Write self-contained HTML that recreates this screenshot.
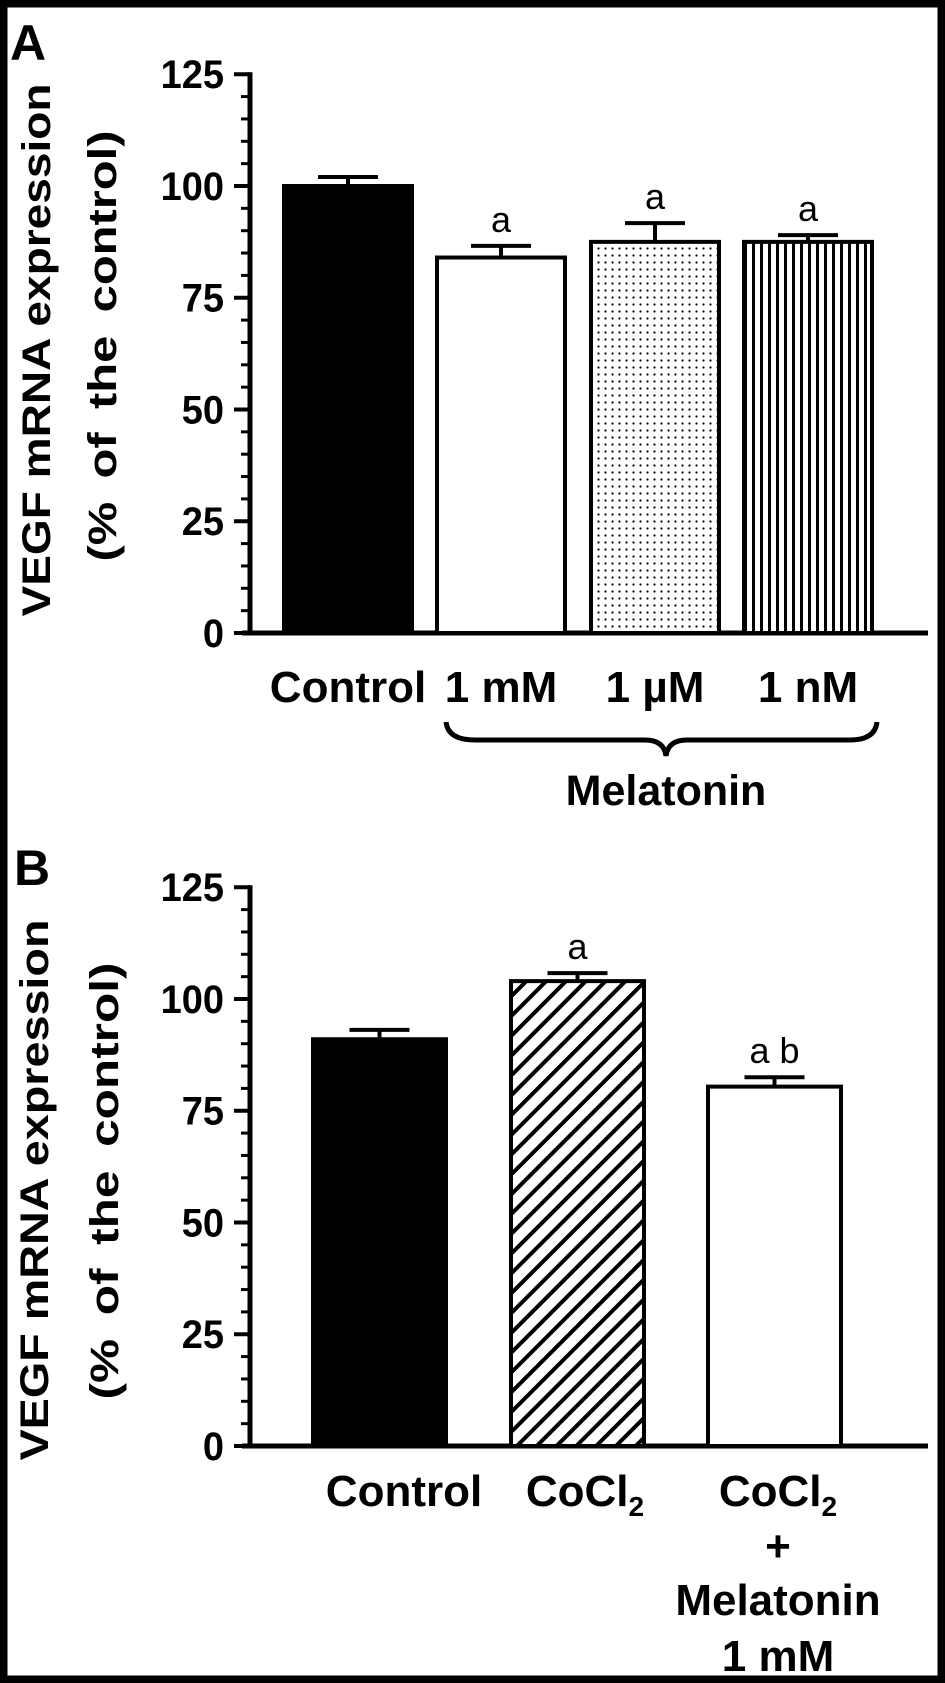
<!DOCTYPE html>
<html><head><meta charset="utf-8"><style>
html,body{margin:0;padding:0;background:#fff}
svg{display:block}
text{font-family:"Liberation Sans",Arial,sans-serif}
</style></head><body>
<svg id="chart" width="945" height="1683" viewBox="0 0 945 1683" xmlns="http://www.w3.org/2000/svg">
<defs>
<pattern id="dots" width="7" height="7" patternUnits="userSpaceOnUse"><rect width="7" height="7" fill="#fff"/><circle cx="3.5" cy="3.5" r="1.1" fill="#000"/></pattern>
<pattern id="vstripes" width="8" height="8" patternUnits="userSpaceOnUse"><rect width="8" height="8" fill="#fff"/><rect x="0" y="0" width="3" height="8" fill="#000"/></pattern>
<pattern id="hatch" width="14" height="14" patternUnits="userSpaceOnUse" patternTransform="rotate(45)"><rect width="14" height="14" fill="#fff"/><rect x="0" y="0" width="4" height="14" fill="#000"/></pattern>
</defs>
<rect x="3.5" y="3.5" width="938" height="1676" fill="#fff" stroke="#000" stroke-width="8"/>
<g id="panelA"></g>
<g id="panelB"></g>
</svg>
<script>
const ticksY = [0, 25, 50, 75, 100, 125];
const catsA = ["Control", "1 mM", "1 \u00b5M", "1 nM"];
const valsA = [100, 84, 87.5, 87.5];
const errsA = [2, 2.6, 4.2, 1.5];
const sigA = ["", "a", "a", "a"];
const catsB = ["Control", "CoCl2", "CoCl2 + Melatonin 1 mM"];
const valsB = [91, 104, 80.4];
const errsB = [2.1, 1.8, 2.1];
const sigB = ["", "a", "a b"];

const NS = "http://www.w3.org/2000/svg";
function mk(parent, tag, attrs, txt) {
  const e = document.createElementNS(NS, tag);
  for (const k in attrs) e.setAttribute(k, attrs[k]);
  if (txt !== undefined) e.textContent = txt;
  parent.appendChild(e);
  return e;
}

function drawPanel(g, cfg) {
  const y = v => cfg.y0 - v * cfg.pxPerUnit;
  const ax = mk(g, "line", {x1: cfg.axX, y1: y(125) - 2, x2: cfg.axX, y2: y(0) + 2, stroke: "#000", "stroke-width": 5});
  
  
  for (let v = 0; v <= 125; v += 5) {
    const major = v % 25 === 0;
    const t = mk(g, "line", {x1: cfg.axX - (major ? 16 : 9), y1: y(v), x2: cfg.axX, y2: y(v), stroke: "#000", "stroke-width": major ? 4 : 3});
    
    
  }
  ticksY.forEach(v => {
    const t = mk(g, "text", {x: cfg.axX - 26, y: y(v) + 14, "text-anchor": "end", "font-size": 40, "font-weight": "bold", transform: `translate(${cfg.axX-26},0) scale(0.95,1) translate(${-(cfg.axX-26)},0)`}, String(v));
    
    
  });
  const xa = mk(g, "line", {x1: cfg.axX - 8, y1: y(0), x2: 928, y2: y(0), stroke: "#000", "stroke-width": 5});
  
  
  cfg.vals.forEach((v, i) => {
    const x0 = cfg.barX[i], w = cfg.barW;
    const cx = x0 + w / 2;
    const eb = mk(g, "line", {x1: cx, y1: y(v), x2: cx, y2: y(v + cfg.errs[i]), stroke: "#000", "stroke-width": 4});
    
    
    const cap = mk(g, "line", {x1: cx - 30, y1: y(v + cfg.errs[i]), x2: cx + 30, y2: y(v + cfg.errs[i]), stroke: "#000", "stroke-width": 4});
    
    
    const b = mk(g, "rect", {x: x0, y: y(v), width: w, height: y(0) - y(v), fill: cfg.fills[i], stroke: "#000", "stroke-width": 4});
    
    
    if (cfg.sig[i]) {
      const s = mk(g, "text", {x: cx, y: y(v + cfg.errs[i]) - 14, "text-anchor": "middle", "font-size": 36}, cfg.sig[i]);
      
      
    }
  });
  const t1 = mk(g, "text", {x: 0, y: 0, "text-anchor": "middle", "font-size": 40, "font-weight": "bold", transform: `translate(${cfg.t1x},${cfg.t1y}) rotate(-90)`, textLength: cfg.t1len, lengthAdjust: "spacingAndGlyphs"}, "VEGF mRNA expression");
  
  
  const t2 = mk(g, "text", {x: 0, y: 0, "text-anchor": "middle", "font-size": 40, "font-weight": "bold", transform: `translate(${cfg.t2x},${cfg.t2y}) rotate(-90)`, textLength: cfg.t2len, lengthAdjust: "spacingAndGlyphs", "word-spacing": 8}, "(% of  the  control)");
  
  
  const pl = mk(g, "text", {x: cfg.plx, y: cfg.ply, "font-size": 50, "font-weight": "bold"}, cfg.panel);
  
  
}

const gA = document.getElementById("panelA");
drawPanel(gA, {y0: 633, pxPerUnit: 4.47, axX: 250, barX: [284, 437, 591, 744], barW: 128,
  vals: valsA, errs: errsA, sig: sigA, fills: ["#000", "#fff", "url(#dots)", "url(#vstripes)"],
  t1x: 50, t1y: 350, t1len: 533, t2x: 116, t2y: 346, t2len: 431, panel: "A", plx: 10, ply: 60});
const xA = [348, 501, 655, 808];
catsA.forEach((c, i) => {
  const t = mk(gA, "text", {x: xA[i], y: 702, "text-anchor": "middle", "font-size": 44, "font-weight": "bold"}, c);
  
  
});
const brace = mk(gA, "path", {d: "M446 722 Q448 740 475 740 L645 740 Q664 740 666 756 Q668 740 687 740 L850 740 Q875 740 877 722", fill: "none", stroke: "#000", "stroke-width": 5});


const mel = mk(gA, "text", {x: 666, y: 805, "text-anchor": "middle", "font-size": 43, "font-weight": "bold"}, "Melatonin");



const gB = document.getElementById("panelB");
drawPanel(gB, {y0: 1446, pxPerUnit: 4.47, axX: 250, barX: [313, 511, 708], barW: 133,
  vals: valsB, errs: errsB, sig: sigB, fills: ["#000", "url(#hatch)", "#fff"],
  t1x: 48, t1y: 1190, t1len: 541, t2x: 118, t2y: 1181, t2len: 437, panel: "B", plx: 14, ply: 885});
function lab(g, x, y, s, name) {
  const t = mk(g, "text", {x: x, y: y, "text-anchor": "middle", "font-size": 44, "font-weight": "bold"}, "");
  t.innerHTML = s;
  
  
}
lab(gB, 404, 1506, "Control", "x-tick-label");
lab(gB, 585, 1506, 'CoCl<tspan font-size="28" dy="10">2</tspan>', "x-tick-label");
lab(gB, 778, 1506, 'CoCl<tspan font-size="28" dy="10">2</tspan>', "x-tick-label");
lab(gB, 778, 1561, "+", "x-tick-label");
lab(gB, 778, 1615, "Melatonin", "x-tick-label");
lab(gB, 778, 1671, "1 mM", "x-tick-label");
</script>
</body></html>
